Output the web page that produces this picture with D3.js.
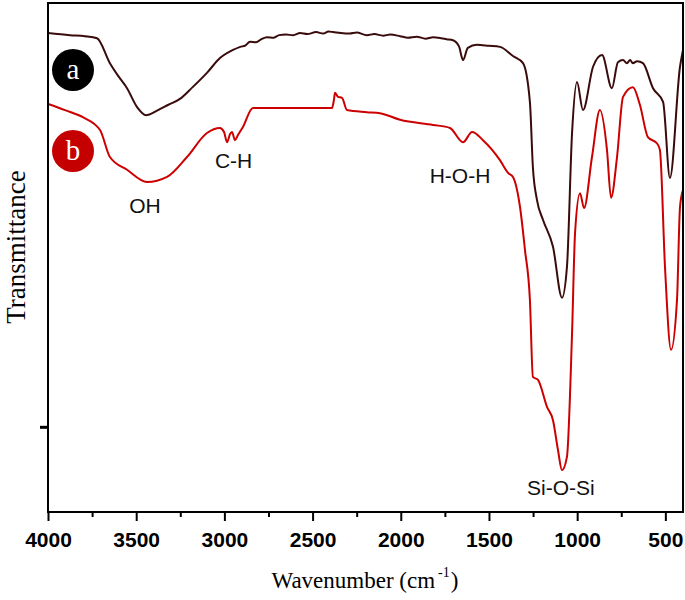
<!DOCTYPE html>
<html><head><meta charset="utf-8">
<script src="https://cdn.jsdelivr.net/npm/d3@7"></script>
<style>body{margin:0;background:#fff}</style>
</head><body>
<svg id="c" width="685" height="600"></svg>
<script>
const xTicks = [4000,3500,3000,2500,2000,1500,1000,500];
const xMinor = [3750,3250,2750,2250,1750,1250,750];
const wnA = [4000,3875,3790,3722,3649,3600,3552,3495,3444,3382,3320,3252,3180,3099,3025,2951,2910,2880,2855,2820,2790,2759,2720,2690,2650,2610,2571,2530,2480,2440,2410,2384,2340,2290,2250,2192,2150,2100,2060,2004,1960,1910,1860,1817,1770,1740,1704,1670,1647,1620,1568,1500,1438,1364,1307,1268,1251,1228,1194,1137,1086,1058,1029,1001,967,910,859,803,769,740,718,700,684,660,627,570,513,474,417,400];
const tA   = [94.1,93.7,93.5,93.1,88.2,85.6,83.3,79.6,78.0,78.9,80.0,81.2,83.5,86.3,89.2,90.8,91.4,91.7,92.4,92.3,92.9,93.3,93.2,93.7,93.8,93.7,94.1,93.9,94.3,94.0,94.4,94.3,94.1,94.0,94.2,93.7,93.9,93.6,93.8,93.5,93.2,93.4,93.0,93.3,93.1,92.9,92.7,91.5,88.8,91.2,91.8,91.6,91.4,89.6,88.2,80.6,67.8,61.4,57.5,52.2,42.2,48.2,74.5,84.5,79.0,87.5,89.8,83.3,88.4,88.8,88.2,88.8,88.2,88.6,88.2,83.3,80.6,65.7,87.5,90.8];
const wnB = [4000,3904,3802,3705,3649,3552,3439,3325,3212,3099,3025,3002,2985,2968,2957,2940,2923,2895,2838,2759,2571,2390,2379,2373,2356,2333,2305,2192,2118,2004,1817,1721,1647,1596,1534,1438,1392,1364,1324,1296,1268,1251,1222,1171,1137,1109,1086,1058,1029,1012,984,961,916,871,831,808,774,740,684,644,599,548,531,502,468,434,417,400];
const tB   = [80.2,79.0,77.6,75.1,69.8,67.3,64.9,65.9,69.8,74.5,75.5,74.7,72.7,74.3,74.7,73.1,74.1,75.7,79.4,79.4,79.4,79.4,81.0,82.4,81.6,81.4,79.0,78.6,78.4,77.1,76.1,75.5,72.7,74.7,73.1,69.2,66.7,65.9,60.0,51.6,41.8,26.7,26.1,20.8,18.2,12.4,8.4,11.0,35.3,54.9,62.7,59.8,69.8,79.0,71.2,61.8,69.8,81.6,83.5,80.0,73.7,72.5,71.2,48.2,32.0,41.8,60.0,63.3];
const yTicks = [16.9];
const labels = [
  {t:"OH", wn:3450, v:58.8},
  {t:"C-H", wn:2948, v:67.6},
  {t:"H-O-H", wn:1664, v:64.7},
  {t:"Si-O-Si", wn:1092, v:3.5}
];
const seriesNames = ["a","b"];

const svg = d3.select("#c");
const L=48, R=683, T=3, B=512;
const x = d3.scaleLinear().domain([4000,400]).range([L,R]);
const y = d3.scaleLinear().domain([0,100]).range([513,3]);

const line = d3.line().x(d=>x(d[0])).y(d=>y(d[1])).curve(d3.curveMonotoneX);
svg.append("path").datum(wnA.map((w,i)=>[w,tA[i]]))
  .attr("d",line).attr("fill","none").attr("stroke","#3a0b0b").attr("stroke-width",2);
svg.append("path").datum(wnB.map((w,i)=>[w,tB[i]]))
  .attr("d",line).attr("fill","none").attr("stroke","#cc0000").attr("stroke-width",2);

// frame
svg.append("rect").attr("x",L).attr("y",T).attr("width",R-L).attr("height",B-T)
  .attr("fill","none").attr("stroke","#000").attr("stroke-width",2);

// x axis
const gx = svg.append("g").attr("transform",`translate(0,${B})`);
gx.call(d3.axisBottom(x).tickValues(xTicks).tickSize(9).tickFormat(d3.format("d")));
gx.select(".domain").remove();
gx.selectAll(".tick line").attr("stroke-width",2);
gx.selectAll(".tick text").attr("font-family","Liberation Sans, Arial, sans-serif")
  .attr("font-weight","bold").attr("font-size",21).attr("y",35).attr("dy",0).attr("fill","#000");
const gm = svg.append("g").attr("transform",`translate(0,${B})`);
gm.call(d3.axisBottom(x).tickValues(xMinor).tickSize(5).tickFormat(""));
gm.select(".domain").remove();
gm.selectAll(".tick line").attr("stroke-width",2);

// y axis tick
const gy = svg.append("g").attr("transform",`translate(${L},0)`);
gy.call(d3.axisLeft(y).tickValues(yTicks).tickSize(8).tickFormat(""));
gy.select(".domain").remove();
gy.selectAll(".tick line").attr("stroke-width",3);

// legend circles
[["a","#000",70],["b","#c40000",151]].forEach(([t,c,cy])=>{
  svg.append("circle").attr("cx",73).attr("cy",cy).attr("r",21).attr("fill",c);
  svg.append("text").attr("x",73).attr("y",cy+9).attr("text-anchor","middle")
    .attr("font-family","Liberation Serif, Times New Roman, serif").attr("font-size",29)
    .attr("fill","#fff").text(t);
});

// annotations
labels.forEach(l=>{
  svg.append("text").attr("x",x(l.wn)).attr("y",y(l.v)).attr("text-anchor","middle")
    .attr("font-family","Liberation Sans, Arial, sans-serif").attr("font-size",21)
    .attr("fill","#111").text(l.t);
});

// axis titles
svg.append("text").attr("transform","translate(25,247) rotate(-90)").attr("text-anchor","middle")
  .attr("font-family","Liberation Serif, Times New Roman, serif").attr("font-size",27)
  .text("Transmittance");
const xt = svg.append("text").attr("x",365).attr("y",588).attr("text-anchor","middle")
  .attr("font-family","Liberation Serif, Times New Roman, serif").attr("font-size",23);
xt.append("tspan").text("Wavenumber (cm");
xt.append("tspan").attr("font-size",14).attr("dy",-11).attr("dx",3).text("-1");
xt.append("tspan").attr("dy",11).attr("dx",1).text(")");
</script>
</body></html>
